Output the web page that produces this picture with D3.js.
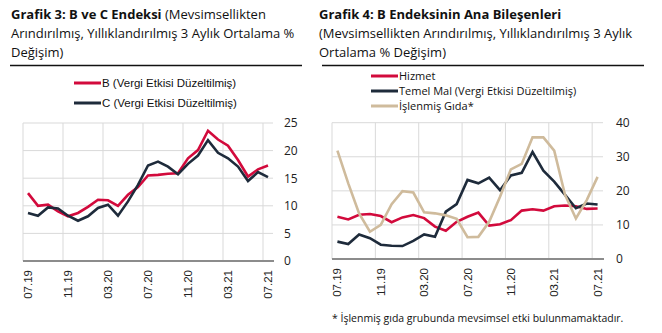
<!DOCTYPE html>
<html>
<head>
<meta charset="utf-8">
<script src="https://cdn.jsdelivr.net/npm/d3@7.9.0/dist/d3.min.js"></script>
<style>
  body { margin: 0; background: #fff; }
  svg { display: block; }
  .title { font-family: "Open Sans", sans-serif; font-size: 13px; fill: #111; }
  .legend-arial { font-family: "Liberation Sans", Arial, sans-serif; font-size: 11.5px; fill: #111; }
  .legend-open { font-family: "Open Sans", sans-serif; font-size: 11px; fill: #111; }
  .xaxis text { font-family: "Liberation Sans", Arial, sans-serif; font-size: 11.5px; fill: #222; }
  .yaxis text { font-family: "Open Sans", sans-serif; font-size: 12px; fill: #222; }
  .note { font-family: "Open Sans", sans-serif; font-size: 10.5px; fill: #111; }
</style>
</head>
<body>
<svg id="chart" width="662" height="333"></svg>
<script>
const months = ["07.19","08.19","09.19","10.19","11.19","12.19","01.20","02.20","03.20","04.20",
  "05.20","06.20","07.20","08.20","09.20","10.20","11.20","12.20","01.21","02.21",
  "03.21","04.21","05.21","06.21","07.21"];
const tickMonths = ["07.19","11.19","03.20","07.20","11.20","03.21","07.21"];

// Grafik 3
const bSeries = [12.3,10.0,10.2,9.0,8.1,8.7,9.8,11.1,11.0,10.0,12.0,13.4,15.5,15.6,15.8,15.9,18.6,20.1,23.6,22.0,20.9,18.3,15.3,16.6,17.3];
const cSeries = [8.7,8.2,9.7,9.5,8.2,7.3,8.1,9.6,10.2,8.2,10.8,13.8,17.3,18.0,17.1,15.7,17.6,19.1,21.9,19.6,18.6,17.1,14.5,16.1,15.2];

// Grafik 4
const hizmet = [12.4,11.6,13.0,13.2,12.6,10.8,12.2,12.9,12.0,9.5,8.3,10.9,12.4,13.6,9.8,10.2,11.4,14.2,14.6,14.2,15.5,15.7,15.5,14.7,14.8];
const temelMal = [5.1,4.4,7.2,6.1,4.2,3.9,3.8,5.3,7.2,6.5,13.9,16.1,23.2,22.2,23.9,20.2,24.5,25.3,31.4,25.9,22.7,18.8,14.9,16.3,16.0];
const islenmisGida = [31.8,22.2,13.4,8.0,10.0,16.1,19.9,19.5,13.7,13.4,12.8,11.8,6.4,6.5,10.9,18.3,26.3,27.9,35.7,35.7,31.8,18.8,11.9,17.3,24.1];

const yTicks3 = [0,5,10,15,20,25];
const yTicks4 = [0,10,20,30,40];

const RED = "#d20a3c", DARK = "#1e2b3b", TAN = "#cfbb9c";

const svg = d3.select("#chart");

function title(x, lines) {
  const t = svg.append("text").attr("class", "title");
  lines.forEach((ln, i) => {
    const row = t.append("tspan").attr("x", x).attr("y", 19 + i * 19);
    if (ln.bold) {
      row.append("tspan").attr("font-weight", "bold").text(ln.bold);
    }
    if (ln.text) row.append("tspan").text(ln.text);
  });
}

function panel(opt) {
  const g = svg.append("g");
  const x = d3.scaleBand().domain(months).range([opt.left, opt.right]).paddingInner(0).paddingOuter(0);
  const y = d3.scaleLinear().domain([0, opt.yMax]).range([opt.bottom, opt.top]);

  // horizontal grid
  g.append("g").selectAll("line").data(opt.yTicks.filter(d => d > 0)).join("line")
    .attr("x1", opt.left).attr("x2", opt.right)
    .attr("y1", d => y(d)).attr("y2", d => y(d))
    .attr("stroke", "#d9d9d9").attr("stroke-width", 1);

  // vertical grid at band edges of ticked months
  g.append("g").selectAll("line").data(tickMonths).join("line")
    .attr("x1", d => x(d)).attr("x2", d => x(d))
    .attr("y1", opt.top).attr("y2", opt.bottom)
    .attr("stroke", "#d9d9d9").attr("stroke-width", 1);

  const line = d3.line().x((d, i) => x(months[i]) + x.bandwidth() / 2).y(d => y(d));
  opt.series.forEach(s => {
    g.append("path").datum(s.values)
      .attr("d", line).attr("fill", "none")
      .attr("stroke", s.color).attr("stroke-width", 2.6)
      .attr("stroke-linejoin", "miter");
  });

  // bottom axis line
  g.append("line").attr("x1", opt.left).attr("x2", opt.right + 1)
    .attr("y1", opt.bottom).attr("y2", opt.bottom)
    .attr("stroke", "#8c8c8c").attr("stroke-width", 1.8);

  // x labels
  const xa = g.append("g").attr("class", "xaxis")
    .attr("transform", `translate(0,${opt.bottom})`)
    .call(d3.axisBottom(x).tickValues(tickMonths).tickSize(0).tickPadding(0));
  xa.select(".domain").remove();
  xa.selectAll("text")
    .attr("transform", "rotate(-90)")
    .attr("text-anchor", "end")
    .attr("x", -9).attr("y", 0).attr("dy", "0.35em");

  // y labels
  const ya = g.append("g").attr("class", "yaxis")
    .attr("transform", `translate(${opt.labelX},0)`)
    .call(d3.axisRight(y).tickValues(opt.yTicks).tickSize(0).tickPadding(0));
  ya.select(".domain").remove();
  ya.selectAll("text").attr("text-anchor", "start");

  // legend
  opt.series.forEach((s, i) => {
    const ly = opt.legendY + i * opt.legendStep;
    g.append("line").attr("x1", opt.legendX).attr("x2", opt.legendX + 27)
      .attr("y1", ly).attr("y2", ly)
      .attr("stroke", s.color).attr("stroke-width", 3);
    g.append("text").attr("class", opt.legendClass)
      .attr("x", opt.legendX + 28).attr("y", ly).attr("dy", "0.35em")
      .text(s.name);
  });
}

title(11, [
  { bold: "Grafik 3: B ve C Endeksi", text: " (Mevsimsellikten" },
  { text: "Arındırılmış, Yıllıklandırılmış 3 Aylık Ortalama %" },
  { text: "Değişim)" }
]);
title(319, [
  { bold: "Grafik 4: B Endeksinin Ana Bileşenleri" },
  { text: "(Mevsimsellikten Arındırılmış, Yıllıklandırılmış 3 Aylık" },
  { text: "Ortalama % Değişim)" }
]);

svg.append("line").attr("x1", 10).attr("x2", 302).attr("y1", 65.5).attr("y2", 65.5)
  .attr("stroke", "#111").attr("stroke-width", 1.3);
svg.append("line").attr("x1", 322).attr("x2", 644).attr("y1", 65.5).attr("y2", 65.5)
  .attr("stroke", "#111").attr("stroke-width", 1.3);

panel({
  left: 23, right: 273, top: 123, bottom: 261, yMax: 25, yTicks: yTicks3, labelX: 284,
  legendX: 74, legendY: 83, legendStep: 20, legendClass: "legend-arial",
  series: [
    { name: "B (Vergi Etkisi Düzeltilmiş)", values: bSeries, color: RED },
    { name: "C (Vergi Etkisi Düzeltilmiş)", values: cSeries, color: DARK }
  ]
});

panel({
  left: 332, right: 603, top: 122.7, bottom: 259, yMax: 40, yTicks: yTicks4, labelX: 616,
  legendX: 371, legendY: 76, legendStep: 15, legendClass: "legend-open",
  series: [
    { name: "Hizmet", values: hizmet, color: RED },
    { name: "Temel Mal (Vergi Etkisi Düzeltilmiş)", values: temelMal, color: DARK },
    { name: "İşlenmiş Gıda*", values: islenmisGida, color: TAN }
  ]
});

svg.append("text").attr("class", "note").attr("x", 332).attr("y", 322)
  .text("* İşlenmiş gıda grubunda mevsimsel etki bulunmamaktadır.");
</script>
</body>
</html>
